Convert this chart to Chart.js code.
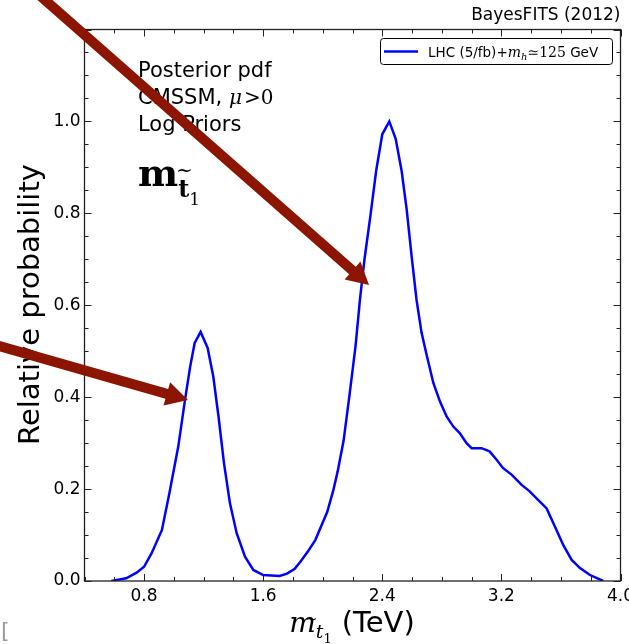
<!DOCTYPE html>
<html>
<head>
<meta charset="utf-8">
<script src="https://cdn.jsdelivr.net/npm/chart.js@4.4.1/dist/chart.umd.min.js"></script>
<style>
  html, body { margin: 0; padding: 0; background: #fff; overflow: hidden; }
  #wrap { position: absolute; left: 0; top: 0; width: 650px; height: 644px; }
</style>
</head>
<body>
<div id="wrap"><canvas id="stopChart" width="650" height="644"></canvas></div>
<script>
// stop mass (TeV) and relative posterior probability
const stopMass = [0.58, 0.68, 0.75, 0.80, 0.85, 0.92, 0.97, 1.03, 1.075, 1.11, 1.14, 1.18,
  1.227, 1.265, 1.30, 1.337, 1.377, 1.422, 1.478, 1.534, 1.60, 1.71, 1.76, 1.81, 1.85,
  1.90, 1.95, 2.03, 2.07, 2.10, 2.14, 2.18, 2.22, 2.25, 2.28, 2.32, 2.36, 2.40, 2.447,
  2.49, 2.53, 2.564, 2.597, 2.63, 2.664, 2.70, 2.743, 2.787, 2.832, 2.877, 2.92, 2.966,
  3.00, 3.067, 3.12, 3.168, 3.21, 3.27, 3.336, 3.39, 3.448, 3.504, 3.56, 3.616, 3.672,
  3.728, 3.795, 3.884];
const relProb = [0.000, 0.006, 0.018, 0.031, 0.060, 0.111, 0.191, 0.293, 0.394, 0.467, 0.518, 0.542,
  0.507, 0.445, 0.358, 0.256, 0.169, 0.104, 0.053, 0.024, 0.013, 0.011, 0.016, 0.026, 0.042,
  0.064, 0.089, 0.150, 0.196, 0.238, 0.305, 0.405, 0.510, 0.612, 0.699, 0.794, 0.895, 0.972, 1.000,
  0.962, 0.892, 0.808, 0.707, 0.612, 0.540, 0.489, 0.431, 0.391, 0.358, 0.336, 0.322, 0.300,
  0.289, 0.289, 0.282, 0.264, 0.246, 0.231, 0.209, 0.195, 0.176, 0.158, 0.118, 0.078, 0.046,
  0.028, 0.013, 0.000];

const seriesLabel = 'LHC (5/fb)+m_h≃125 GeV';
const xTickLabels = ['0.8', '1.6', '2.4', '3.2', '4.0'];
const yTickLabels = ['0.0', '0.2', '0.4', '0.6', '0.8', '1.0'];

// red arrows, in data coordinates (tail -> tip)
const arrowTails = [[0.135, 1.264], [-0.17, 0.511]];
const arrowTips = [[2.311, 0.644], [1.095, 0.394]];

const SANS = '"DejaVu Sans", sans-serif';
const SERIF = '"DejaVu Serif", serif';

function drawRuns(ctx, x, y, runs, align) {
  let total = 0;
  runs.forEach(r => { ctx.font = r.font; r.w = ctx.measureText(r.t).width; total += r.w + (r.gap || 0); });
  let cx = align === 'center' ? x - total / 2 : (align === 'right' ? x - total : x);
  runs.forEach(r => {
    ctx.font = r.font;
    ctx.fillText(r.t, cx, y + (r.dy || 0));
    cx += r.w + (r.gap || 0);
  });
}

function drawArrow(ctx, x0, y0, x1, y1) {
  const dx = x1 - x0, dy = y1 - y0;
  const len = Math.hypot(dx, dy);
  const ux = dx / len, uy = dy / len;
  const nx = -uy, ny = ux;
  const shaft = 5, headW = 12, headL = 22;
  const sx = x0 - ux * 40, sy = y0 - uy * 40;
  const bx = x1 - ux * headL, by = y1 - uy * headL;
  ctx.beginPath();
  ctx.moveTo(sx + nx * shaft, sy + ny * shaft);
  ctx.lineTo(bx + nx * shaft, by + ny * shaft);
  ctx.lineTo(bx + nx * headW, by + ny * headW);
  ctx.lineTo(x1, y1);
  ctx.lineTo(bx - nx * headW, by - ny * headW);
  ctx.lineTo(bx - nx * shaft, by - ny * shaft);
  ctx.lineTo(sx - nx * shaft, sy - ny * shaft);
  ctx.closePath();
  ctx.fill();
}

const overlay = {
  id: 'overlay',
  afterDraw(chart) {
    const ctx = chart.ctx;
    const a = chart.chartArea;
    const xs = chart.scales.x, ys = chart.scales.y;
    ctx.save();

    // frame
    ctx.strokeStyle = '#222';
    ctx.lineWidth = 1.3;
    ctx.strokeRect(a.left, a.top, a.right - a.left, a.bottom - a.top);

    // inward ticks on all four sides
    ctx.lineWidth = 1;
    ctx.beginPath();
    xs.ticks.forEach(t => {
      const px = Math.round(xs.getPixelForValue(t.value)) + 0.5;
      const len = t.label ? 7 : 4;
      ctx.moveTo(px, a.bottom); ctx.lineTo(px, a.bottom - len);
      ctx.moveTo(px, a.top); ctx.lineTo(px, a.top + len);
    });
    ys.ticks.forEach(t => {
      const py = Math.round(ys.getPixelForValue(t.value)) + 0.5;
      const major = Math.round(t.value * 100) % 20 === 0;
      const len = major ? 7 : 4;
      ctx.moveTo(a.left, py); ctx.lineTo(a.left + len, py);
      ctx.moveTo(a.right, py); ctx.lineTo(a.right - len, py);
    });
    ctx.stroke();

    ctx.fillStyle = '#000';
    ctx.textBaseline = 'alphabetic';
    ctx.textAlign = 'left';

    // annotation text
    ctx.font = '21px ' + SANS;
    ctx.fillText('Posterior pdf', 138, 77);
    drawRuns(ctx, 138, 104, [
      { t: 'CMSSM, ', font: '21px ' + SANS },
      { t: 'μ', font: 'italic 20px ' + SERIF, gap: 2 },
      { t: '>0', font: '20px ' + SERIF }
    ], 'left');
    ctx.font = '21px ' + SANS;
    ctx.fillText('Log Priors', 138, 131);
    drawRuns(ctx, 138, 186, [
      { t: 'm', font: 'bold 38px ' + SERIF },
      { t: 't', font: 'bold 24px ' + SERIF, dy: 11 },
      { t: '1', font: '17px ' + SERIF, dy: 19 }
    ], 'left');
    ctx.font = '20px ' + SERIF;
    ctx.fillText('~', 176, 177);

    // top-right label
    ctx.font = '17px ' + SANS;
    ctx.textAlign = 'right';
    ctx.fillText('BayesFITS (2012)', a.right, 20);
    ctx.textAlign = 'left';

    // legend
    ctx.fillStyle = '#fff';
    ctx.strokeStyle = '#000';
    ctx.lineWidth = 1;
    ctx.beginPath();
    ctx.roundRect(380.5, 38.5, 232, 26, 3);
    ctx.fill();
    ctx.stroke();
    ctx.strokeStyle = chart.data.datasets[0].borderColor;
    ctx.lineWidth = 2.5;
    ctx.beginPath();
    ctx.moveTo(384, 51.5); ctx.lineTo(418, 51.5);
    ctx.stroke();
    ctx.fillStyle = '#000';
    const parts = seriesLabel.split('m_h');
    drawRuns(ctx, 428, 57, [
      { t: parts[0], font: '13.5px ' + SANS },
      { t: 'm', font: 'italic 14px ' + SERIF },
      { t: 'h', font: 'italic 10px ' + SERIF, dy: 3 },
      { t: parts[1].split(' GeV')[0], font: '14px ' + SERIF },
      { t: ' GeV', font: '13.5px ' + SANS }
    ], 'left');

    // axis titles
    drawRuns(ctx, 352, 632, [
      { t: 'm', font: 'italic 28px ' + SERIF },
      { t: 't', font: 'italic 19px ' + SERIF, dy: 6 },
      { t: '1', font: '13px ' + SERIF, dy: 11, gap: 10 },
      { t: '(TeV)', font: '29px ' + SANS }
    ], 'center');
    ctx.font = '15px ' + SERIF;
    ctx.fillText('~', 305, 624);

    ctx.save();
    ctx.translate(39, 304.5);
    ctx.rotate(-Math.PI / 2);
    ctx.textAlign = 'center';
    ctx.font = '29px ' + SANS;
    ctx.fillText('Relative probability', 0, 0);
    ctx.restore();

    // stray clipped glyph at bottom-left
    ctx.fillStyle = '#9a9a9a';
    ctx.font = '22px ' + SANS;
    ctx.fillText('[', 1, 638);

    // arrows
    ctx.fillStyle = '#8c1500';
    arrowTails.forEach((t, i) => {
      const p = arrowTips[i];
      drawArrow(ctx, xs.getPixelForValue(t[0]), ys.getPixelForValue(t[1]),
        xs.getPixelForValue(p[0]), ys.getPixelForValue(p[1]));
    });
    ctx.restore();
  }
};

const tickFont = { family: 'DejaVu Sans', size: 17 };

new Chart(document.getElementById('stopChart'), {
  type: 'line',
  data: {
    datasets: [{
      label: seriesLabel,
      data: stopMass.map((m, i) => ({ x: m, y: relProb[i] })),
      borderColor: '#0000ff',
      borderWidth: 2.5,
      pointRadius: 0,
      tension: 0,
      fill: false
    }]
  },
  options: {
    responsive: false,
    animation: false,
    layout: { padding: { left: 0, right: 29.5, top: 29.5, bottom: 0 } },
    plugins: { legend: { display: false }, tooltip: { enabled: false } },
    scales: {
      x: {
        type: 'linear', min: 0.4, max: 4.0,
        grid: { display: false, drawTicks: false },
        border: { display: false },
        ticks: {
          stepSize: 0.2, autoSkip: false, maxRotation: 0, padding: 5,
          color: '#000', font: tickFont,
          callback: v => {
            const s = v.toFixed(1);
            return xTickLabels.includes(s) ? s : '';
          }
        },
        afterFit: s => { s.height = 63; s.paddingLeft = 0; s.paddingRight = 0; }
      },
      y: {
        min: 0, max: 1.2,
        grid: { display: false, drawTicks: false },
        border: { display: false },
        ticks: {
          stepSize: 0.05, autoSkip: false, padding: 4,
          color: '#000', font: tickFont,
          callback: v => {
            const s = (Math.round(v * 100) / 100).toFixed(2);
            const l = s.slice(0, 3);
            return (s.endsWith('0') && yTickLabels.includes(l) && Math.round(v * 100) % 20 === 0) ? l : '';
          }
        },
        afterFit: s => { s.width = 84.5; }
      }
    }
  },
  plugins: [overlay]
});
</script>
</body>
</html>
